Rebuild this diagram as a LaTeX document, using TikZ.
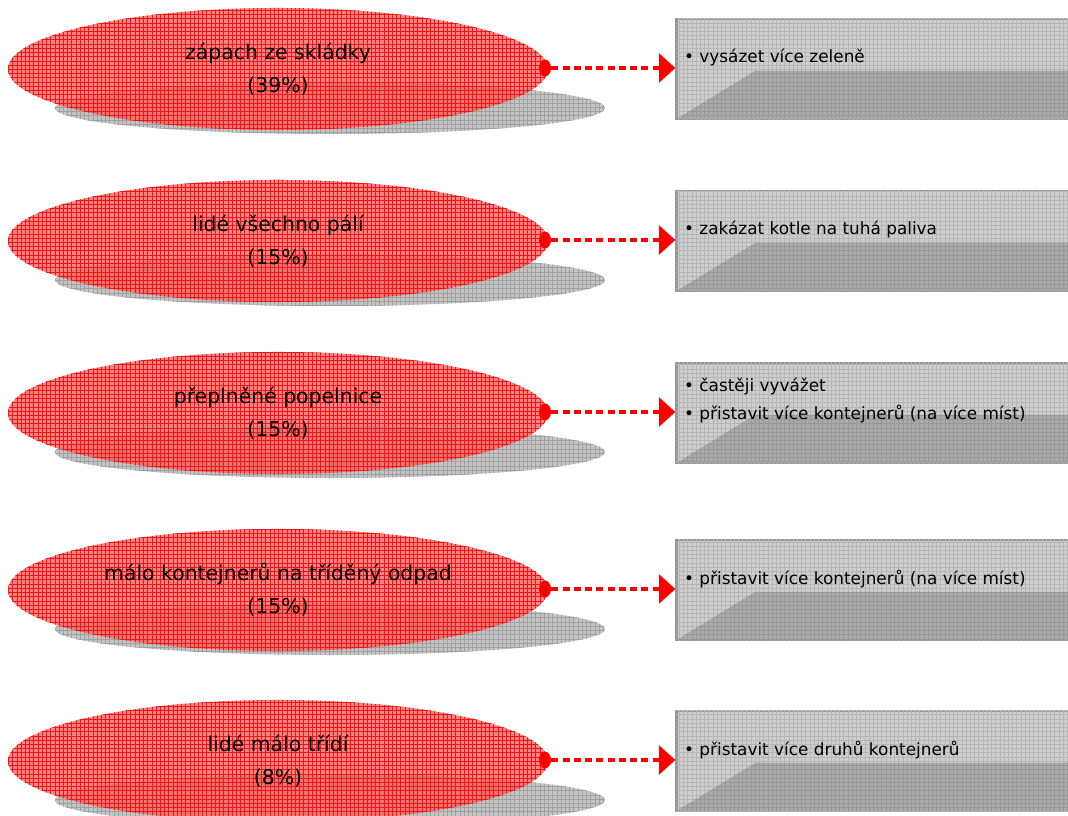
\documentclass[tikz,border=0pt]{standalone}
\usepackage{fontspec}
\setmainfont{DejaVu Sans}
\usetikzlibrary{shapes.geometric,arrows.meta,patterns}
\definecolor{causered}{RGB}{246,90,90}
\definecolor{gridred}{RGB}{240,20,20}
\definecolor{shadowgray}{RGB}{196,196,196}
\definecolor{shadowgrid}{RGB}{160,160,160}
\definecolor{boxlight}{RGB}{206,206,206}
\definecolor{boxlightgrid}{RGB}{182,182,182}
\definecolor{boxdark}{RGB}{170,170,170}
\definecolor{boxdarkgrid}{RGB}{152,152,152}
\definecolor{boxedge}{RGB}{150,150,150}

\begin{document}
\begin{tikzpicture}[x=0.025cm, y=0.025cm,
  cause/.style={ellipse, minimum width=13.5cm, minimum height=3.05cm, inner sep=0pt,
    fill=causered, fill opacity=0.74, text opacity=1, align=center,
    font=\fontsize{14.5}{23.5}\selectfont,
    postaction={pattern=grid, pattern color=gridred, fill opacity=0.9}},
  shadow/.style={ellipse, minimum width=13.75cm, minimum height=1.3cm, inner sep=0pt,
    fill=shadowgray, postaction={pattern=grid, pattern color=shadowgrid}},
  remedy/.style={rectangle, minimum width=9.85cm, minimum height=2.5cm, inner sep=0pt,
    fill=boxlight, draw=boxedge, line width=1.5pt,
    postaction={pattern=grid, pattern color=boxlightgrid}},
  band/.style={fill=boxdark, postaction={pattern=grid, pattern color=boxdarkgrid}},
  item/.style={anchor=west, inner sep=0pt, align=left,
    font=\fontsize{12}{20}\selectfont},
  knob/.style={ellipse, fill=red, minimum width=0.3cm, minimum height=0.42cm, inner sep=0pt},
  link/.style={draw=red, line width=3.5pt, dash pattern=on 5pt off 3pt,
    -{Triangle[length=11.5pt, width=20pt]}}]
  \useasboundingbox (0,0) rectangle (1068,816);

  % Shadows
  \foreach \n/\y in {1/747, 2/575, 3/403, 4/226, 5/55}
    \node[shadow] (shadow\n) at (330,\y-39) {};

  % Causes
  \node[cause] (cause1) at (278,747) {zápach ze skládky\\(39\%)};
  \node[cause] (cause2) at (278,575) {lidé všechno pálí\\(15\%)};
  \node[cause] (cause3) at (278,403) {přeplněné popelnice\\(15\%)};
  \node[cause] (cause4) at (278,226) {málo kontejnerů na tříděný odpad\\(15\%)};
  \node[cause] (cause5) at (278,55) {lidé málo třídí\\(8\%)};

  % Remedies
  \foreach \n/\y in {1/747, 2/575, 3/403, 4/226, 5/55} {
    \node[knob] (dot\n) at (545,\y+1) {};
    \node[remedy] (fix\n) at (873.5,\y) {};
    \fill[band] ([shift={(1,1)}]fix\n.south west) -- (755,\y-2) -- (1070,\y-2)
      -- ([shift={(0,1)}]fix\n.south east) -- cycle;
  }
  \node[item] (txt1) at ([xshift=6]fix1.west) [yshift=8] {• vysázet více zeleně};
  \node[item] (txt2) at ([xshift=6]fix2.west) [yshift=8] {• zakázat kotle na tuhá paliva};
  \node[item] (txt3) at ([xshift=6]fix3.west) [yshift=9] {• častěji vyvážet\\• přistavit více kontejnerů (na více míst)};
  \node[item] (txt4) at ([xshift=6]fix4.west) [yshift=8] {• přistavit více kontejnerů (na více míst)};
  \node[item] (txt5) at ([xshift=6]fix5.west) [yshift=8] {• přistavit více druhů kontejnerů};

  % Edges
  \foreach \n in {1,...,5}
    \draw[link] (dot\n.east) -- (fix\n.west |- dot\n);
\end{tikzpicture}
\end{document}
